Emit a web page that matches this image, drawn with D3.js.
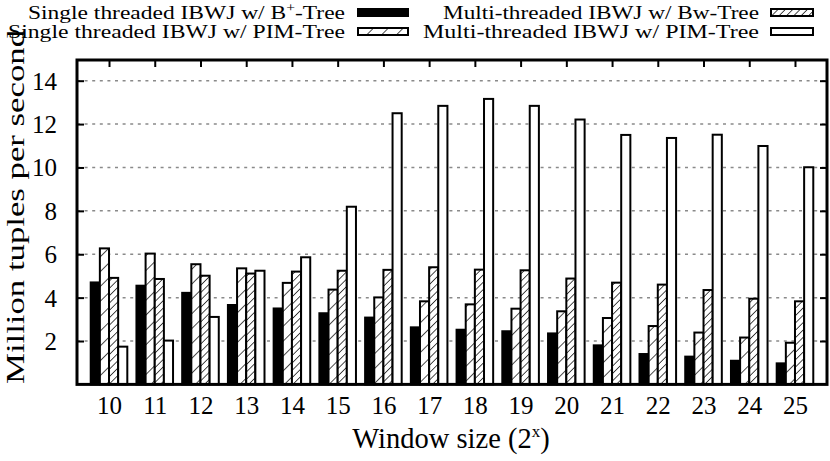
<!DOCTYPE html>
<html>
<head>
<meta charset="utf-8">
<script src="https://cdn.jsdelivr.net/npm/d3@7"></script>
<style>
  html, body { margin: 0; padding: 0; background: #fff; }
  svg { display: block; }
  text { font-family: "Liberation Serif", "Times New Roman", serif; fill: #000; }
</style>
</head>
<body>
<svg id="chart" width="830" height="461"></svg>
<script>
// ---- data ----
const categories = ["10","11","12","13","14","15","16","17","18","19","20","21","22","23","24","25"];
const seriesNames = [
  "Single threaded IBWJ w/ B+-Tree",
  "Single threaded IBWJ w/ PIM-Tree",
  "Multi-threaded IBWJ w/ Bw-Tree",
  "Multi-threaded IBWJ w/ PIM-Tree"
];
const singleBplus = [4.70, 4.55, 4.22, 3.66, 3.50, 3.28, 3.08, 2.63, 2.52, 2.45, 2.35, 1.80, 1.40, 1.28, 1.09, 0.97];
const singlePim   = [6.27, 6.03, 5.54, 5.35, 4.68, 4.37, 4.01, 3.83, 3.69, 3.49, 3.37, 3.06, 2.69, 2.39, 2.16, 1.92];
const multiBw     = [4.91, 4.86, 5.01, 5.11, 5.20, 5.24, 5.28, 5.40, 5.29, 5.26, 4.88, 4.69, 4.60, 4.35, 3.95, 3.83];
const multiPim    = [1.74, 2.02, 3.11, 5.24, 5.86, 8.19, 12.50, 12.84, 13.16, 12.84, 12.21, 11.50, 11.36, 11.51, 10.99, 10.01];
const yTicks = [2, 4, 6, 8, 10, 12, 14];
const seriesValues = [singleBplus, singlePim, multiBw, multiPim];

// ---- layout ----
const svg = d3.select("#chart");
const L = 77, R = 827, T = 60, B = 384.4;
const x = d3.scaleLinear().domain([-0.7, categories.length - 0.3]).range([L, R]);
const y = d3.scaleLinear().domain([0, 15]).range([B, T - 1]);
const barW = 0.2;

// patterns
const defs = svg.append("defs");
function hatch(id, spacing, sw) {
  const p = defs.append("pattern").attr("id", id)
    .attr("patternUnits", "userSpaceOnUse")
    .attr("width", spacing).attr("height", spacing)
    .attr("patternTransform", "rotate(45)");
  p.append("rect").attr("width", spacing).attr("height", spacing).attr("fill", "#fff");
  p.append("line").attr("x1", 0).attr("y1", 0).attr("x2", 0).attr("y2", spacing)
    .attr("stroke", "#000").attr("stroke-width", sw);
}
hatch("hatchSparse", 10.5, 1.4);
hatch("hatchDense", 5.2, 1.4);
const fills = ["#000", "url(#hatchSparse)", "url(#hatchDense)", "#fff"];

// grid
svg.append("g").selectAll("line").data(yTicks).join("line")
  .attr("x1", L).attr("x2", R)
  .attr("y1", d => y(d)).attr("y2", d => y(d))
  .attr("stroke", "#8a8a8a").attr("stroke-width", 1.5)
  .attr("stroke-dasharray", "3,4.6");

// bars
const gBars = svg.append("g");
seriesValues.forEach((vals, j) => {
  gBars.append("g").selectAll("rect").data(vals).join("rect")
    .attr("x", (d, i) => x(i + (j - 2) * barW))
    .attr("width", x(barW) - x(0))
    .attr("y", d => y(d))
    .attr("height", d => y(0) - y(d))
    .attr("fill", fills[j])
    .attr("stroke", "#000").attr("stroke-width", 2);
});

// axes (gnuplot-style, ticks inward + mirrored)
const yAxisL = d3.axisLeft(y).tickValues(yTicks).tickSize(-7).tickPadding(20);
const gy = svg.append("g").attr("transform", `translate(${L},0)`).call(yAxisL);
gy.select(".domain").remove();
gy.selectAll(".tick line").attr("stroke", "#000").attr("stroke-width", 2);
gy.selectAll(".tick text").style("font-size", "25px").style("font-family", "Liberation Serif").attr("dy", "0.34em");

const gyR = svg.append("g").attr("transform", `translate(${R},0)`)
  .call(d3.axisRight(y).tickValues(yTicks).tickSize(-7).tickFormat(""));
gyR.select(".domain").remove();
gyR.selectAll(".tick line").attr("stroke", "#000").attr("stroke-width", 2);

const xIdx = d3.range(categories.length);
const gxT = svg.append("g").attr("transform", `translate(0,${T})`)
  .call(d3.axisTop(x).tickValues(xIdx).tickSize(-7).tickFormat(""));
gxT.select(".domain").remove();
gxT.selectAll(".tick line").attr("stroke", "#000").attr("stroke-width", 2);

const gxB = svg.append("g").attr("transform", `translate(0,${B})`)
  .call(d3.axisBottom(x).tickValues(xIdx).tickSize(0).tickPadding(12).tickFormat(i => categories[i]));
gxB.select(".domain").remove();
gxB.selectAll(".tick text").style("font-size", "25px").style("font-family", "Liberation Serif");

// frame
svg.append("rect").attr("x", L).attr("y", T).attr("width", R - L).attr("height", B - T)
  .attr("fill", "none").attr("stroke", "#000").attr("stroke-width", 3);

// axis titles
svg.append("text")
  .attr("transform", `translate(24,207) rotate(-90)`)
  .attr("text-anchor", "middle")
  .attr("textLength", 354).attr("lengthAdjust", "spacingAndGlyphs")
  .style("font-size", "25px")
  .text("Million tuples per second");

const xt = svg.append("text")
  .attr("x", 451).attr("y", 448)
  .attr("text-anchor", "middle")
  .style("font-size", "28.5px");
xt.append("tspan").text("Window size (2");
xt.append("tspan").attr("dy", -11).style("font-size", "17px").text("x");
xt.append("tspan").attr("dy", 11).text(")");

// legend
const legend = [
  { name: seriesNames[0], x: 345, y: 19, len: 317, sx: 358, sw: 50, fill: fills[0] },
  { name: seriesNames[1], x: 345, y: 38, len: 337, sx: 358, sw: 50, fill: fills[1] },
  { name: seriesNames[2], x: 759, y: 19, len: 316, sx: 771, sw: 42, fill: fills[2] },
  { name: seriesNames[3], x: 759, y: 38, len: 336, sx: 771, sw: 42, fill: fills[3] }
];
const lg = svg.append("g");
legend.forEach((d, j) => {
  const t = lg.append("text").attr("x", d.x).attr("y", d.y)
    .attr("text-anchor", "end")
    .attr("textLength", d.len).attr("lengthAdjust", "spacingAndGlyphs")
    .style("font-size", "18px");
  if (d.name.includes("B+")) {
    const parts = d.name.split("B+");
    t.append("tspan").text(parts[0] + "B");
    t.append("tspan").attr("dy", -7).style("font-size", "12px").text("+");
    t.append("tspan").attr("dy", 7).text(parts[1]);
  } else {
    t.text(d.name);
  }
  lg.append("rect").attr("x", d.sx).attr("y", d.y - 10).attr("width", d.sw).attr("height", 7)
    .attr("fill", d.fill).attr("stroke", "#000").attr("stroke-width", 2);
});
</script>
</body>
</html>
